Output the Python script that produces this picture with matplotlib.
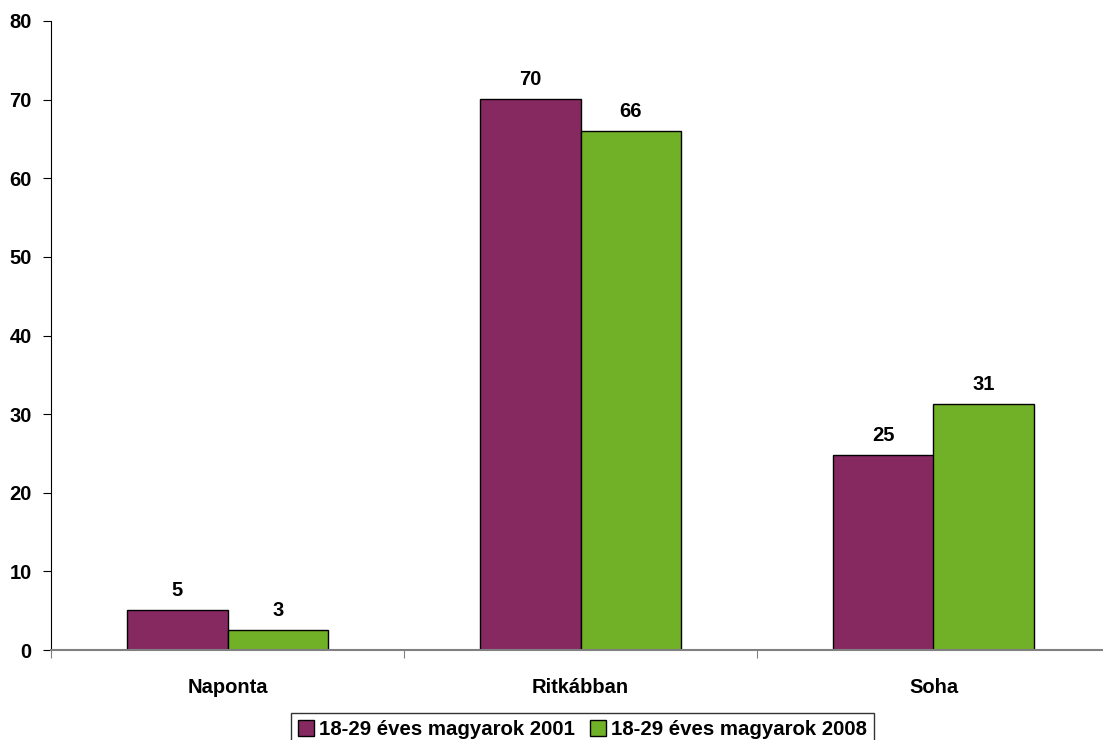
import matplotlib
matplotlib.use("Agg")
import matplotlib.pyplot as plt
import numpy as np

plt.rcParams['font.family'] = ['Liberation Sans', 'DejaVu Sans']
plt.rcParams['font.weight'] = 'bold'

categories = ["Naponta", "Ritkábban", "Soha"]
series_names = ["18-29 éves magyarok 2001", "18-29 éves magyarok 2008"]
values_2001 = [5.1, 70.1, 24.8]
values_2008 = [2.5, 66.0, 31.3]
labels_2001 = ["5", "70", "25"]
labels_2008 = ["3", "66", "31"]
colors = ["#862961", "#70B128"]

fs = 14.5

fig = plt.figure(figsize=(11.03, 7.40), dpi=100)
ax = fig.add_axes([51 / 1103, 1 - 650 / 740, 1059 / 1103, 629 / 740])

x = np.arange(len(categories))
w = 0.286
b1 = ax.bar(x - w / 2, values_2001, w, color=colors[0], edgecolor="black", linewidth=1, label=series_names[0])
b2 = ax.bar(x + w / 2, values_2008, w, color=colors[1], edgecolor="black", linewidth=1, label=series_names[1])

for bars, labs in ((b1, labels_2001), (b2, labels_2008)):
    for r, lab in zip(bars, labs):
        ax.text(r.get_x() + r.get_width() / 2, r.get_height() + 1.3, lab,
                ha="center", va="bottom", fontsize=fs, fontweight="bold")

ax.set_xlim(-0.5, 2.5)
ax.set_ylim(0, 80)
ax.set_yticks(range(0, 81, 10))
ax.set_xticks([-0.5, 0.5, 1.5, 2.5])
ax.set_xticklabels([])
ax.set_xticks(x, minor=True)
ax.set_xticklabels(categories, minor=True, fontsize=fs, fontweight="bold")
ax.tick_params(axis="x", which="minor", length=0, pad=20)
ax.tick_params(axis="x", which="major", length=6, color="#808080", direction="out")
ax.tick_params(axis="y", length=6, labelsize=fs, pad=8)
for t in ax.get_yticklabels():
    t.set_fontweight("bold")

ax.spines["top"].set_visible(False)
ax.spines["right"].set_visible(False)
ax.spines["bottom"].set_color("#808080")
ax.spines["bottom"].set_linewidth(1.5)
ax.spines["left"].set_color("black")

leg = fig.legend(loc="lower center", bbox_to_anchor=(0.528, -0.022), ncol=2,
                 frameon=True, fancybox=False, edgecolor="black",
                 prop={"size": fs + 0.2, "weight": "bold"},
                 handlelength=0.8, handleheight=0.8, handletextpad=0.25,
                 columnspacing=0.7, borderpad=0.35)
leg.get_frame().set_linewidth(1)

fig.savefig("out.png", dpi=100)
